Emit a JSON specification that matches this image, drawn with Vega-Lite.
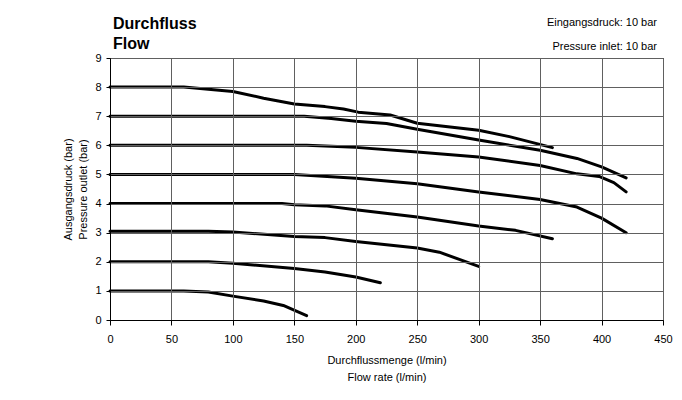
{
  "$schema": "https://vega.github.io/schema/vega-lite/v6.json",
  "autosize": "none",
  "width": 553,
  "height": 262,
  "padding": {"left": 110, "top": 58, "right": 19, "bottom": 80},
  "background": "white",
  "view": {"stroke": "#000"},
  "resolve": {"axis": {"x": "independent", "y": "independent"}},
  "datasets": {
    "curves": [
      {"c": "8", "q": 0, "p": 8}, {"c": "8", "q": 60, "p": 8}, {"c": "8", "q": 100, "p": 7.85}, {"c": "8", "q": 125, "p": 7.62}, {"c": "8", "q": 150, "p": 7.42}, {"c": "8", "q": 175, "p": 7.33}, {"c": "8", "q": 190, "p": 7.25}, {"c": "8", "q": 202, "p": 7.14}, {"c": "8", "q": 228, "p": 7.04}, {"c": "8", "q": 250, "p": 6.76}, {"c": "8", "q": 275, "p": 6.64}, {"c": "8", "q": 300, "p": 6.52}, {"c": "8", "q": 325, "p": 6.3}, {"c": "8", "q": 360, "p": 5.92},
      {"c": "7", "q": 0, "p": 7}, {"c": "7", "q": 158, "p": 7}, {"c": "7", "q": 180, "p": 6.92}, {"c": "7", "q": 200, "p": 6.83}, {"c": "7", "q": 225, "p": 6.75}, {"c": "7", "q": 250, "p": 6.55}, {"c": "7", "q": 300, "p": 6.18}, {"c": "7", "q": 350, "p": 5.83}, {"c": "7", "q": 380, "p": 5.55}, {"c": "7", "q": 400, "p": 5.26}, {"c": "7", "q": 420, "p": 4.88},
      {"c": "6", "q": 0, "p": 6}, {"c": "6", "q": 160, "p": 6}, {"c": "6", "q": 200, "p": 5.93}, {"c": "6", "q": 250, "p": 5.77}, {"c": "6", "q": 300, "p": 5.6}, {"c": "6", "q": 350, "p": 5.31}, {"c": "6", "q": 380, "p": 5.02}, {"c": "6", "q": 398, "p": 4.93}, {"c": "6", "q": 410, "p": 4.72}, {"c": "6", "q": 420, "p": 4.4},
      {"c": "5", "q": 0, "p": 5}, {"c": "5", "q": 150, "p": 5}, {"c": "5", "q": 200, "p": 4.87}, {"c": "5", "q": 250, "p": 4.68}, {"c": "5", "q": 300, "p": 4.4}, {"c": "5", "q": 350, "p": 4.14}, {"c": "5", "q": 380, "p": 3.88}, {"c": "5", "q": 400, "p": 3.5}, {"c": "5", "q": 420, "p": 3.0},
      {"c": "4", "q": 0, "p": 4}, {"c": "4", "q": 140, "p": 4}, {"c": "4", "q": 150, "p": 3.96}, {"c": "4", "q": 175, "p": 3.92}, {"c": "4", "q": 200, "p": 3.79}, {"c": "4", "q": 250, "p": 3.54}, {"c": "4", "q": 300, "p": 3.23}, {"c": "4", "q": 330, "p": 3.08}, {"c": "4", "q": 360, "p": 2.79},
      {"c": "3", "q": 0, "p": 3.05}, {"c": "3", "q": 80, "p": 3.05}, {"c": "3", "q": 100, "p": 3.02}, {"c": "3", "q": 150, "p": 2.87}, {"c": "3", "q": 175, "p": 2.83}, {"c": "3", "q": 200, "p": 2.7}, {"c": "3", "q": 250, "p": 2.47}, {"c": "3", "q": 268, "p": 2.33}, {"c": "3", "q": 300, "p": 1.84},
      {"c": "2", "q": 0, "p": 2}, {"c": "2", "q": 80, "p": 2}, {"c": "2", "q": 100, "p": 1.95}, {"c": "2", "q": 150, "p": 1.77}, {"c": "2", "q": 175, "p": 1.65}, {"c": "2", "q": 200, "p": 1.48}, {"c": "2", "q": 220, "p": 1.28},
      {"c": "1", "q": 0, "p": 1}, {"c": "1", "q": 60, "p": 1}, {"c": "1", "q": 80, "p": 0.96}, {"c": "1", "q": 100, "p": 0.82}, {"c": "1", "q": 125, "p": 0.65}, {"c": "1", "q": 141, "p": 0.5}, {"c": "1", "q": 160, "p": 0.15}
    ],
    "labels": [{"left": ["Durchfluss", "Flow"], "right": ["Eingangsdruck: 10 bar", "Pressure inlet: 10 bar"]}]
  },
  "layer": [
    {
      "data": {"name": "curves"},
      "mark": {"type": "line", "color": "#000", "strokeWidth": 3, "strokeCap": "round", "strokeJoin": "round"},
      "encoding": {
        "x": {"field": "q", "type": "quantitative", "scale": {"domain": [0, 450], "nice": false},
          "axis": {"values": [0, 50, 100, 150, 200, 250, 300, 350, 400, 450], "tickCount": 10, "grid": true, "gridColor": "#606060", "zindex": 1, "domainColor": "#000", "tickColor": "#000", "tickSize": 5, "labelPadding": 8, "labelFont": "Liberation Sans", "labelFontSize": 11, "labelColor": "#000", "labelOverlap": false, "labelFlush": false,
            "title": ["Durchflussmenge (l/min)", "Flow rate (l/min)"], "titleFont": "Liberation Sans", "titleFontSize": 11, "titleFontWeight": "normal", "titleColor": "#000", "titlePadding": 10, "titleLineHeight": 17}},
        "y": {"field": "p", "type": "quantitative", "scale": {"domain": [0, 9], "nice": false},
          "axis": {"values": [0, 1, 2, 3, 4, 5, 6, 7, 8, 9], "tickCount": 10, "grid": true, "gridColor": "#606060", "zindex": 1, "domainColor": "#000", "tickColor": "#000", "tickSize": 4, "labelPadding": 5, "labelFont": "Liberation Sans", "labelFontSize": 11, "labelColor": "#000", "labelOverlap": false, "labelFlush": false,
            "title": ["Ausgangsdruck (bar)", "Pressure outlet (bar)"], "titleFont": "Liberation Sans", "titleFontSize": 11, "titleFontWeight": "normal", "titleColor": "#000", "titlePadding": 6, "titleLineHeight": 15}},
        "detail": {"field": "c", "type": "nominal"}
      }
    },
    {
      "data": {"name": "labels"},
      "mark": {"type": "text", "align": "right", "baseline": "top", "font": "Liberation Sans", "fontSize": 11, "color": "#000", "lineHeight": 24, "dx": -6, "dy": -41},
      "encoding": {"text": {"field": "right"}, "x": {"datum": 450, "type": "quantitative", "axis": null}, "y": {"datum": 9, "type": "quantitative", "axis": null}}
    },
    {
      "data": {"name": "labels"},
      "mark": {"type": "text", "align": "left", "baseline": "alphabetic", "font": "Liberation Sans", "fontSize": 16, "fontWeight": "bold", "color": "#000", "lineHeight": 19.5, "dx": 3, "dy": -29},
      "encoding": {"text": {"field": "left"}, "x": {"datum": 0, "type": "quantitative", "axis": null}, "y": {"datum": 9, "type": "quantitative", "axis": null}}
    }
  ]
}
